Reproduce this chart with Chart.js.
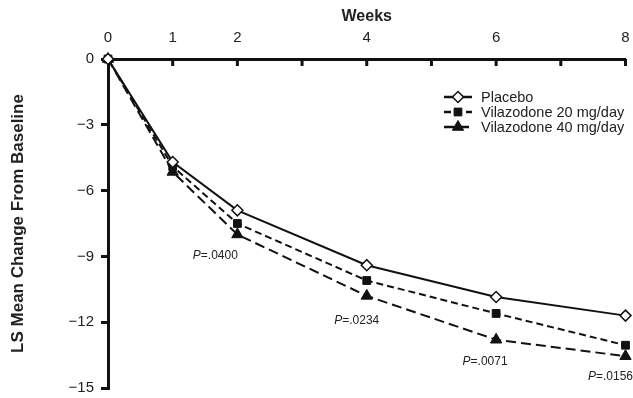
<!DOCTYPE html>
<html>
<head>
<meta charset="utf-8">
<script src="https://cdn.jsdelivr.net/npm/chart.js@4.4.0/dist/chart.umd.min.js"></script>
<style>
  html, body { margin: 0; padding: 0; background: #fff; }
  #wrap { width: 633px; height: 398px; }
</style>
</head>
<body>
<div id="wrap"><canvas id="lsChart"></canvas></div>
<script>
// data
var weeks = [0, 1, 2, 4, 6, 8];
var placebo = [0, -4.7, -6.9, -9.4, -10.85, -11.7];
var vila20 = [0, -4.9, -7.5, -10.1, -11.6, -13.05];
var vila40 = [0, -5.15, -8.0, -10.8, -12.8, -13.55];
var seriesNames = ["Placebo", "Vilazodone 20 mg/day", "Vilazodone 40 mg/day"];
var pWeeks = [2, 4, 6, 8];
var pLabels = [".0400", ".0234", ".0071", ".0156"];
var xTickLabels = [0, 1, 2, 4, 6, 8];
var yTicks = [0, -3, -6, -9, -12, -15];

var FONT = "'Liberation Sans', Arial, sans-serif";

function pts(vals) {
    return weeks.map(function (w, i) { return {x: w, y: vals[i]}; });
}

function marker(ctx, ds, x, y) {
    ctx.lineWidth = ds.pointBorderWidth;
    ctx.strokeStyle = ds.pointBorderColor;
    ctx.fillStyle = ds.pointBackgroundColor;
    Chart.helpers.drawPoint(ctx, {
        pointStyle: ds.pointStyle,
        radius: ds.pointRadius,
        borderWidth: ds.pointBorderWidth
    }, x, y);
}

var extras = {
    id: "extras",
    afterDraw: function (chart) {
        var ctx = chart.ctx;
        var xs = chart.scales.x, ys = chart.scales.y;
        ctx.save();
        // x ticks on the top axis point down into the plot
        ctx.strokeStyle = "#111";
        ctx.lineWidth = 3;
        for (var w = 1; w <= 8; w++) {
            var px = xs.getPixelForValue(w);
            ctx.beginPath();
            ctx.moveTo(px, ys.top);
            ctx.lineTo(px, ys.top + 7);
            ctx.stroke();
        }
        // P value notes under the 40 mg/day points
        ctx.fillStyle = "#222";
        ctx.textBaseline = "middle";
        var offs = [[-22, 21], [-10, 25], [-11, 22], [-15, 20]];
        pWeeks.forEach(function (w, i) {
            var idx = weeks.indexOf(w);
            var cx = xs.getPixelForValue(w) + offs[i][0];
            var cy = ys.getPixelForValue(vila40[idx]) + offs[i][1];
            var a = "P", b = "=" + pLabels[i];
            ctx.font = "italic 12px " + FONT;
            var wa = ctx.measureText(a).width;
            ctx.font = "12px " + FONT;
            var wb = ctx.measureText(b).width;
            var x0 = cx - (wa + wb) / 2;
            ctx.textAlign = "left";
            ctx.font = "italic 12px " + FONT;
            ctx.fillText(a, x0, cy);
            ctx.font = "12px " + FONT;
            ctx.fillText(b, x0 + wa, cy);
        });
        // legend
        var lx = 444, ly = 97, gap = 15;
        chart.data.datasets.forEach(function (ds, i) {
            var y = ly + i * gap;
            ctx.strokeStyle = "#111";
            ctx.lineWidth = 2.5;
            ctx.setLineDash(ds.borderDash || []);
            ctx.beginPath();
            ctx.moveTo(lx, y);
            ctx.lineTo(lx + 28, y);
            ctx.stroke();
            ctx.setLineDash([]);
            marker(ctx, ds, lx + 14, y);
            ctx.fillStyle = "#222";
            ctx.font = "14.5px " + FONT;
            ctx.textAlign = "left";
            ctx.fillText(ds.label, lx + 37, y + 1);
        });
        ctx.restore();
    }
};

new Chart(document.getElementById("lsChart"), {
    type: "line",
    data: {
        datasets: [{
            label: seriesNames[0],
            data: pts(placebo),
            borderColor: "#111",
            borderWidth: 2,
            pointStyle: "rectRot",
            pointRadius: 5.5,
            pointBackgroundColor: "#fff",
            pointBorderColor: "#111",
            pointBorderWidth: 1.5
        }, {
            label: seriesNames[1],
            data: pts(vila20),
            borderColor: "#111",
            borderWidth: 2,
            borderDash: [7, 4],
            pointStyle: "rect",
            pointRadius: 5.5,
            pointBackgroundColor: "#111",
            pointBorderColor: "#111",
            pointBorderWidth: 1
        }, {
            label: seriesNames[2],
            data: pts(vila40),
            borderColor: "#111",
            borderWidth: 2,
            borderDash: [10, 5],
            pointStyle: "triangle",
            pointRadius: 6.5,
            pointBackgroundColor: "#111",
            pointBorderColor: "#111",
            pointBorderWidth: 1
        }]
    },
    options: {
        responsive: true,
        maintainAspectRatio: false,
        animation: false,
        clip: false,
        layout: { padding: { left: 0, right: 7, top: 0, bottom: 10 } },
        plugins: { legend: { display: false }, tooltip: { enabled: false } },
        scales: {
            x: {
                type: "linear",
                position: "top",
                min: 0, max: 8,
                afterBuildTicks: function (s) {
                    s.ticks = xTickLabels.map(function (v) { return {value: v}; });
                },
                afterFit: function (s) { s.height = 59; s.paddingLeft = 0; s.paddingRight = 0; },
                border: { color: "#111", width: 3 },
                grid: { display: false, drawTicks: false },
                ticks: { color: "#222", font: { family: FONT, size: 15 }, padding: 12, maxRotation: 0 },
                title: { display: true, text: "Weeks", color: "#222", font: { family: FONT, size: 16, weight: "bold" }, padding: { top: 7, bottom: 0 } }
            },
            y: {
                min: -15, max: 0,
                afterBuildTicks: function (s) {
                    s.ticks = yTicks.map(function (v) { return {value: v}; });
                },
                afterFit: function (s) { s.width = 108; s.paddingTop = 0; s.paddingBottom = 0; },
                border: { color: "#111", width: 3 },
                grid: { drawOnChartArea: false, color: "#111", lineWidth: 3, tickLength: 7 },
                ticks: {
                    color: "#222", font: { family: FONT, size: 15 }, padding: 7,
                    callback: function (v) { return v < 0 ? "\u2212" + Math.abs(v) : String(v); }
                },
                title: { display: true, text: "LS Mean Change From Baseline", color: "#222", font: { family: FONT, size: 17, weight: "bold" }, padding: { top: 8, bottom: 0 } }
            }
        }
    },
    plugins: [extras]
});
</script>
</body>
</html>
